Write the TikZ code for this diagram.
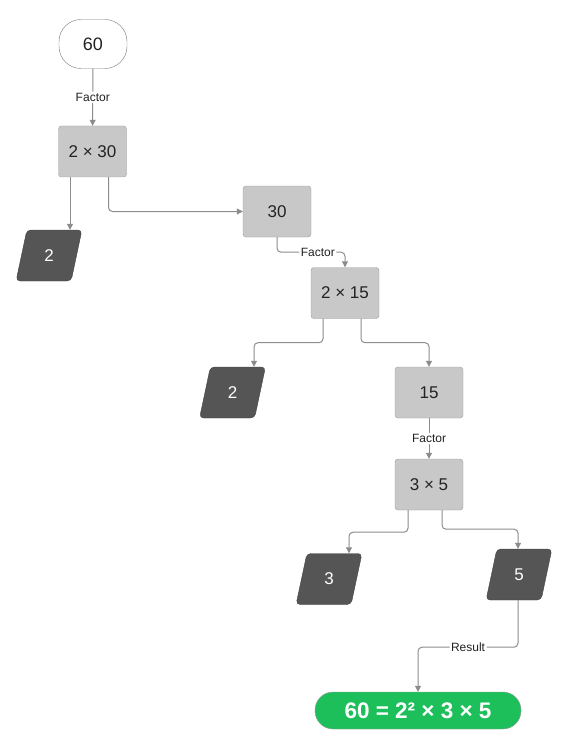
\documentclass[tikz,border=0pt]{standalone}
\usepackage{fontspec}
\setmainfont{Liberation Sans}
\usetikzlibrary{arrows.meta,calc,shapes.geometric}
\definecolor{boxgray}{HTML}{C8C8C8}
\definecolor{bordergray}{HTML}{9C9C9C}
\definecolor{primegray}{HTML}{555555}
\definecolor{linegray}{HTML}{8C8C8C}
\definecolor{textdark}{HTML}{222222}
\definecolor{resgreen}{HTML}{1DBF5B}
\tikzset{
  start/.style={draw=textdark!60,rounded corners=22pt,minimum width=68pt,minimum height=49pt,font=\fontsize{18}{20}\selectfont,text=textdark},
  factor/.style={draw=bordergray,fill=boxgray,rounded corners=3pt,minimum width=68pt,minimum height=51pt,font=\fontsize{17}{19}\selectfont,text=textdark},
  prime/.style={trapezium,trapezium left angle=78,trapezium right angle=102,trapezium stretches=true,fill=primegray,draw=primegray!80!black,rounded corners=4pt,minimum width=66pt,minimum height=51pt,text=white,font=\fontsize{17}{19}\selectfont},
  result/.style={draw=bordergray,fill=resgreen,rounded corners=18pt,minimum width=206pt,minimum height=37pt,text=white,font=\fontsize{22.5}{24}\selectfont\bfseries},
  link/.style={draw=linegray,line width=1pt,rounded corners=4pt,-{Triangle[length=6pt,width=6pt]}},
  tag/.style={fill=white,font=\fontsize{12}{14}\selectfont,text=textdark,inner sep=1.5pt}
}
\begin{document}
\begin{tikzpicture}[x=1pt,y=-1pt]
\useasboundingbox (0,0) rectangle (570,746);
\node[start] (n60) at (93,44) {60};
\node[factor] (m230) at (92.5,151.5) {2 × 30};
\node[prime] (p2a) at (49,255.5) {2};
\node[factor] (n30) at (277,211.5) {30};
\node[factor] (m215) at (345,293) {2 × 15};
\node[prime] (p2b) at (232.5,392.5) {2};
\node[factor] (n15) at (429,392.5) {15};
\node[factor] (m35) at (429,484.5) {3 × 5};
\node[prime] (p3) at (329,579) {3};
\node[prime] (p5) at (519,574.5) {5};
\node[result] (res) at (418,710.5) {60 = 2² × 3 × 5};
% first split
\draw[link] (n60) -- node[tag] {Factor} (m230);
\coordinate (a1) at ($(m230.south)+(-22.5,0)$);
\draw[link] (a1) -- (a1 |- p2a.north);
\draw[link] ($(m230.south)+(16,0)$) |- (n30.west);
\draw[link] (n30.south) -- ++(0,15) -| node[tag,pos=0.3] {Factor} (m215.north);
% second split
\draw[link] ($(m215.south)+(-22,0)$) -- ++(0,24) -| ($(p2b.north)+(21.5,0)$);
\draw[link] ($(m215.south)+(16,0)$) -- ++(0,24) -| (n15.north);
\draw[link] (n15) -- node[tag] {Factor} (m35);
% third split
\draw[link] ($(m35.south)+(-21,0)$) -- ++(0,22) -| ($(p3.north)+(20,0)$);
\draw[link] ($(m35.south)+(13,0)$) -- ++(0,19) -| ($(p5.north)+(-1,0)$);
\draw[link] ($(p5.south)+(-1,0)$) -- ++(0,47) -| node[tag,pos=0.25] {Result} (res.north);
\end{tikzpicture}
\end{document}
